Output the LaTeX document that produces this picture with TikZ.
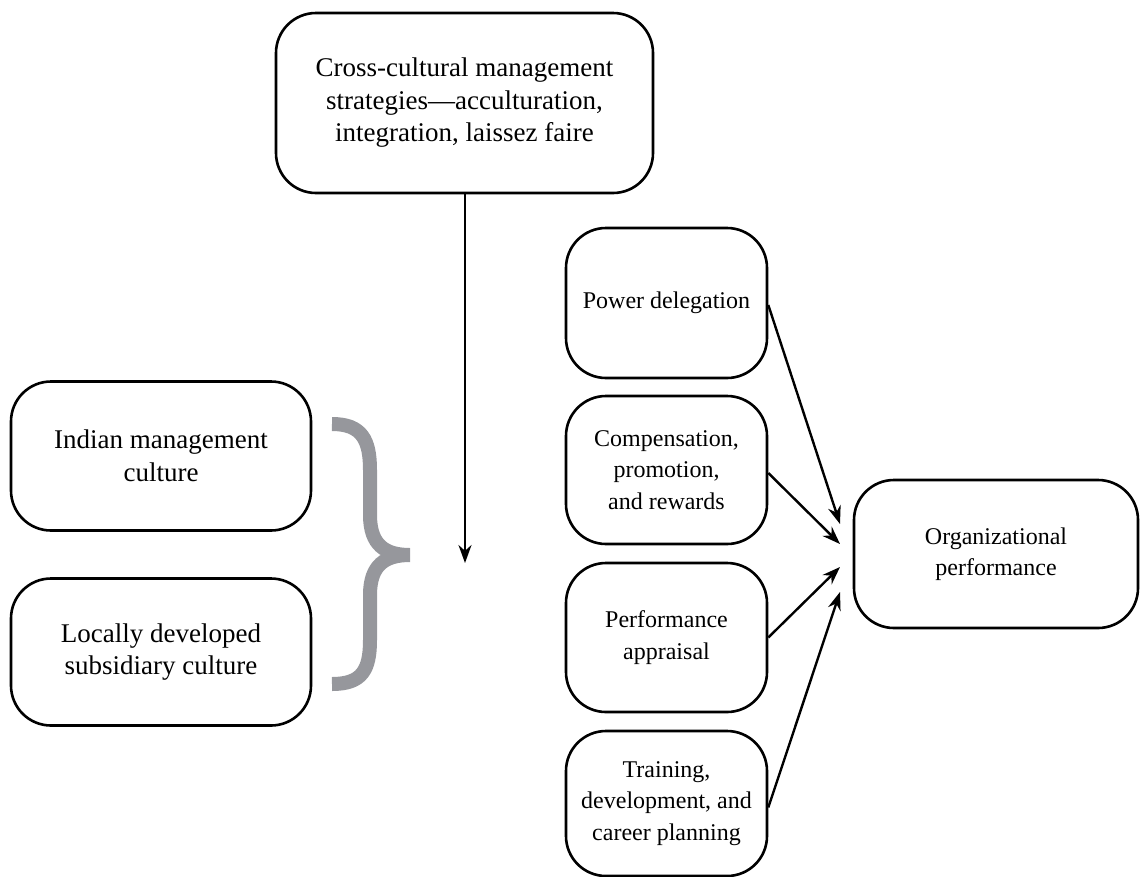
\documentclass[tikz,border=0pt]{standalone}
\usepackage{fontspec}
\setmainfont{Liberation Serif}
\usetikzlibrary{arrows.meta}
\definecolor{bracegray}{RGB}{150,151,156}
\begin{document}
\begin{tikzpicture}[x=1pt,y=-1pt,
  box/.style={draw, line width=2.6pt, rounded corners=40pt, align=center,
    inner sep=0pt, font=\fontsize{24}{31.5}\selectfont},
  bigbox/.style={box, font=\fontsize{27}{32.5}\selectfont},
  conn/.style={line width=2.4pt, -{Stealth[length=18pt,width=13pt]}}]
\useasboundingbox (0,0) rectangle (1140,876);
\node[bigbox, minimum width=377pt, minimum height=180pt] (top) at (464.5,103)
  {Cross-cultural management\\strategies---acculturation,\\integration, laissez faire};
\node[bigbox, minimum width=300pt, minimum height=149pt] (ind) at (161,456)
  {Indian management\\culture};
\node[bigbox, minimum width=300pt, minimum height=147pt] (loc) at (161,652)
  {Locally developed\\subsidiary culture};
\node[box, minimum width=201pt, minimum height=150pt] (pow) at (666.5,303)
  {Power delegation};
\node[box, minimum width=201pt, minimum height=148pt] (comp) at (666.5,470)
  {Compensation,\\promotion,\\and rewards};
\node[box, minimum width=201pt, minimum height=149pt] (perf) at (666.5,637.5)
  {Performance\\appraisal};
\node[box, minimum width=201pt, minimum height=145pt] (train) at (666.5,803.5)
  {Training,\\development, and\\career planning};
\node[box, minimum width=284pt, minimum height=148pt] (org) at (996,554)
  {Organizational\\performance};
\coordinate (vt) at (465,563);
\coordinate (t1) at (840,524);
\coordinate (t2) at (840,544);
\coordinate (t3) at (840,567);
\coordinate (t4) at (840,592);
\draw[conn] (top.south -| vt) -- (vt);
\draw[conn] (pow.east) ++(0,2) -- (t1);
\draw[conn] (comp.east) ++(0,3) -- (t2);
\draw[conn] (perf.east) -- (t3);
\draw[conn] (train.east) ++(0,4) -- (t4);
\draw[bracegray, line width=14pt, line cap=butt]
  (332,424) .. controls (362,424) and (370,440) .. (370,470)
  -- (370,515) .. controls (370,545) and (385,555) .. (410,555)
  .. controls (385,555) and (370,565) .. (370,595)
  -- (370,640) .. controls (370,670) and (362,684) .. (332,684);
\end{tikzpicture}
\end{document}
